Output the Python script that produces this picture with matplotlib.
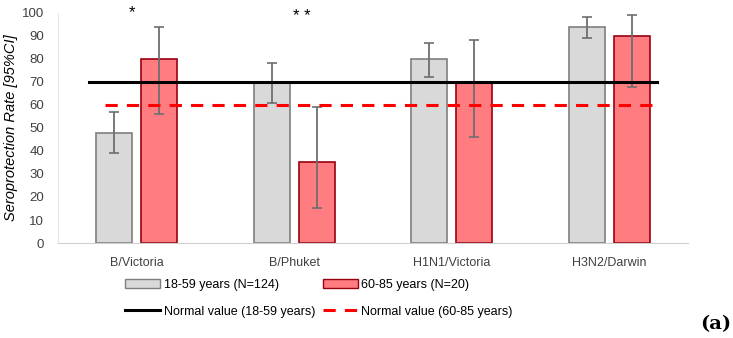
import numpy as np
import matplotlib
matplotlib.use("Agg")
import matplotlib.pyplot as plt
from matplotlib.patches import Patch
from matplotlib.lines import Line2D

strains = ["B/Victoria", "B/Phuket", "H1N1/Victoria", "H3N2/Darwin"]
young = [48, 70, 80, 94]
young_lo = [39, 61, 72, 89]
young_hi = [57, 78, 87, 98]
old = [80, 35, 70, 90]
old_lo = [56, 15, 46, 68]
old_hi = [94, 59, 88, 99]
normal_young = 70
normal_old = 60
stars = ["*", "**", "", ""]

plt.rcParams['font.family'] = ['Liberation Sans', 'DejaVu Sans']

fig = plt.figure(figsize=(7.33, 3.38), dpi=100)
ax = fig.add_axes([0.079, 0.281, 0.86, 0.681])

x = np.arange(len(strains))
w = 0.228
off = 0.143
yerr_y = [np.array(young) - np.array(young_lo), np.array(young_hi) - np.array(young)]
yerr_o = [np.array(old) - np.array(old_lo), np.array(old_hi) - np.array(old)]

ax.bar(x - off, young, w, color='#d9d9d9', edgecolor='#7f7f7f', linewidth=1.2,
       yerr=yerr_y, error_kw=dict(ecolor='#6e6e6e', elinewidth=1.3, capsize=3.5, capthick=1.2), zorder=2)
ax.bar(x + off, old, w, color='#ff7c80', edgecolor='#990012', linewidth=1.2,
       yerr=yerr_o, error_kw=dict(ecolor='#6e6e6e', elinewidth=1.3, capsize=3.5, capthick=1.2), zorder=2)

ax.plot([-0.30, 3.30], [normal_young] * 2, color='black', lw=2.2, zorder=4)
ax.plot([-0.20, 3.30], [normal_old] * 2, color='#ff0000', lw=2.2, ls=(0, (4, 3)), zorder=4)

# significance marks above the pairs
ax.text(0 - 0.03, 100, stars[0], ha='center', va='center', fontsize=12)
ax.text(1 + 0.05, 98.5, ' '.join(stars[1]), ha='center', va='center', fontsize=12)

ax.set_xlim(-0.5, 3.5)
ax.set_ylim(0, 100)
ax.set_yticks(range(0, 101, 10))
ax.set_xticks(x)
ax.set_xticklabels(strains)
ax.tick_params(axis='y', length=0, labelsize=9.5, colors='#404040', pad=10)
ax.tick_params(axis='x', length=0, labelsize=9, colors='#404040', pad=10)
ax.set_ylabel('Seroprotection Rate [95%CI]', style='italic', fontsize=10.5, va='center')
ax.yaxis.set_label_coords(-0.075, 0.5)
for side in ['top', 'right']:
    ax.spines[side].set_visible(False)
ax.spines['left'].set_color('#e6e6e6')
ax.spines['bottom'].set_color('#d0d0d0')

handles = [
    Patch(facecolor='#d9d9d9', edgecolor='#7f7f7f'),
    Line2D([], [], color='black', lw=2.2),
    Patch(facecolor='#ff7c80', edgecolor='#990012'),
    Line2D([], [], color='#ff0000', lw=2.2, ls=(0, (4, 3))),
]
labels = ['18-59 years (N=124)', 'Normal value (18-59 years)',
          '60-85 years (N=20)', 'Normal value (60-85 years)']
fig.legend(handles, labels, ncol=2, loc='upper left', bbox_to_anchor=(0.1705, 0.174),
           frameon=False, fontsize=9, handlelength=2.8, handletextpad=0.3,
           columnspacing=0.6, labelspacing=1.15, borderaxespad=0, borderpad=0)

fig.text(0.997, 0.015, '(a)', fontsize=14, fontweight='bold', family='DejaVu Serif',
         ha='right', va='bottom')

fig.savefig('out.png', dpi=100)
